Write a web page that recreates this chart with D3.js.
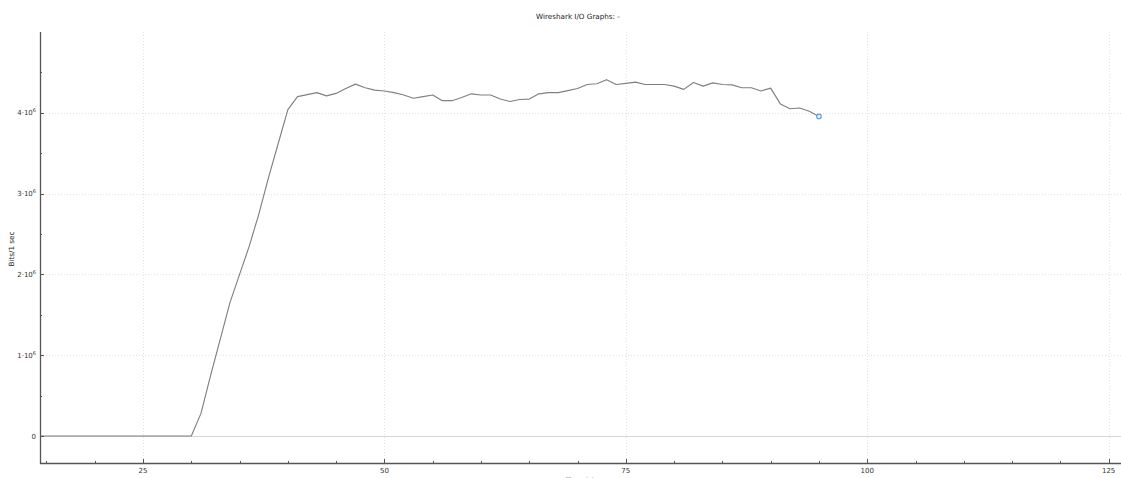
<!DOCTYPE html>
<html>
<head>
<meta charset="utf-8">
<script src="https://cdn.jsdelivr.net/npm/d3@7"></script>
<style>
  html, body { margin: 0; padding: 0; background: #fff; }
  svg { display: block; }
  text { font-family: "DejaVu Sans", sans-serif; }
</style>
</head>
<body>
<svg id="chart" width="1121" height="478"></svg>
<script>
// Throughput samples: one value per second (bits per 1 s interval)
const seconds = [14,15,16,17,18,19,20,21,22,23,24,25,26,27,28,29,30,
  31,32,33,34,35,36,37,38,39,40,41,42,43,44,45,46,47,48,49,50,
  51,52,53,54,55,56,57,58,59,60,61,62,63,64,65,66,67,68,69,70,
  71,72,73,74,75,76,77,78,79,80,81,82,83,84,85,86,87,88,89,90,
  91,92,93,94,95];
const bitsPerSec = [0,0,0,0,0,0,0,0,0,0,0,0,0,0,0,0,0,
  0.28e6,0.75e6,1.2e6,1.65e6,2.0e6,2.35e6,2.75e6,3.2e6,3.62e6,4.04e6,
  4.20e6,4.225e6,4.25e6,4.21e6,4.24e6,4.30e6,4.355e6,4.31e6,4.28e6,4.27e6,
  4.25e6,4.22e6,4.18e6,4.20e6,4.22e6,4.15e6,4.15e6,4.19e6,4.235e6,4.22e6,
  4.22e6,4.17e6,4.14e6,4.165e6,4.17e6,4.235e6,4.25e6,4.25e6,4.275e6,4.30e6,
  4.35e6,4.36e6,4.41e6,4.35e6,4.365e6,4.38e6,4.35e6,4.35e6,4.35e6,4.33e6,
  4.29e6,4.375e6,4.33e6,4.37e6,4.35e6,4.345e6,4.31e6,4.31e6,4.27e6,4.305e6,
  4.11e6,4.05e6,4.06e6,4.02e6,3.955e6];

const xMajorTicks = [25, 50, 75, 100, 125];
const xMinorTicks = [15,20,30,35,40,45,55,60,65,70,80,85,90,95,105,110,115,120];
const yMajorTicks = [0, 1e6, 2e6, 3e6, 4e6];
const yMinorTicks = [0.5e6, 1.5e6, 2.5e6, 3.5e6, 4.5e6];

const titleText = "Wireshark I/O Graphs: -";
const yLabelText = "Bits/1 sec";
const xLabelText = "Time (s)";

const svg = d3.select("#chart");
const plotLeft = 40, plotRight = 1121, plotTop = 32, plotBottom = 463;

const x = d3.scaleLinear().domain([14.33, 126.28]).range([plotLeft, plotRight]);
const y = d3.scaleLinear().domain([-0.334e6, 5.0e6]).range([plotBottom, plotTop]);

// plot area clip
svg.append("defs").append("clipPath").attr("id", "plotClip")
  .append("rect").attr("x", plotLeft).attr("y", plotTop)
  .attr("width", plotRight - plotLeft).attr("height", plotBottom - plotTop);

// grid
const grid = svg.append("g").attr("stroke", "#e2e2e2").attr("stroke-width", 1)
  .attr("stroke-dasharray", "1,2");
grid.selectAll("line.vx").data(xMajorTicks).join("line")
  .attr("x1", d => Math.round(x(d)) + 0.5).attr("x2", d => Math.round(x(d)) + 0.5)
  .attr("y1", plotTop).attr("y2", plotBottom);
grid.selectAll("line.hy").data(yMajorTicks.filter(d => d !== 0)).join("line")
  .attr("x1", plotLeft).attr("x2", plotRight)
  .attr("y1", d => Math.round(y(d)) + 0.5).attr("y2", d => Math.round(y(d)) + 0.5);

// zero line
svg.append("line")
  .attr("x1", plotLeft).attr("x2", plotRight)
  .attr("y1", Math.round(y(0)) + 0.5).attr("y2", Math.round(y(0)) + 0.5)
  .attr("stroke", "#d6d6d6").attr("stroke-width", 1.2);

// data line
const line = d3.line().x((d, i) => x(seconds[i])).y(d => y(d));
svg.append("path")
  .attr("clip-path", "url(#plotClip)")
  .attr("d", line(bitsPerSec))
  .attr("fill", "none")
  .attr("stroke", "#808080")
  .attr("stroke-width", 1.15)
  .attr("stroke-linejoin", "round");

// last-sample marker
const lastI = bitsPerSec.length - 1;
svg.append("circle")
  .attr("cx", x(seconds[lastI])).attr("cy", y(bitsPerSec[lastI]))
  .attr("r", 2.3)
  .attr("fill", "#e8f1fc")
  .attr("stroke", "#5b9be6")
  .attr("stroke-width", 1.1);

// axes
const axisColor = "#555";
svg.append("line").attr("x1", plotLeft + 0.5).attr("x2", plotLeft + 0.5)
  .attr("y1", plotTop).attr("y2", plotBottom + 1)
  .attr("stroke", axisColor).attr("stroke-width", 1.3);
svg.append("line").attr("x1", plotLeft).attr("x2", plotRight)
  .attr("y1", plotBottom + 0.5).attr("y2", plotBottom + 0.5)
  .attr("stroke", axisColor).attr("stroke-width", 1.3);

// y ticks (inward)
svg.selectAll("line.ytM").data(yMajorTicks).join("line")
  .attr("x1", plotLeft).attr("x2", plotLeft + 4)
  .attr("y1", d => Math.round(y(d)) + 0.5).attr("y2", d => Math.round(y(d)) + 0.5)
  .attr("stroke", axisColor);
svg.selectAll("line.ytm").data(yMinorTicks).join("line")
  .attr("x1", plotLeft).attr("x2", plotLeft + 2)
  .attr("y1", d => Math.round(y(d)) + 0.5).attr("y2", d => Math.round(y(d)) + 0.5)
  .attr("stroke", axisColor);

// x ticks (inward)
svg.selectAll("line.xtM").data(xMajorTicks).join("line")
  .attr("x1", d => Math.round(x(d)) + 0.5).attr("x2", d => Math.round(x(d)) + 0.5)
  .attr("y1", plotBottom).attr("y2", plotBottom - 4)
  .attr("stroke", axisColor);
svg.selectAll("line.xtm").data(xMinorTicks).join("line")
  .attr("x1", d => Math.round(x(d)) + 0.5).attr("x2", d => Math.round(x(d)) + 0.5)
  .attr("y1", plotBottom).attr("y2", plotBottom - 2)
  .attr("stroke", axisColor);

// y tick labels, e.g. 4·10^6
const yl = svg.selectAll("text.yl").data(yMajorTicks).join("text")
  .attr("x", plotLeft - 4).attr("y", d => y(d) + 2.5)
  .attr("text-anchor", "end")
  .attr("font-size", 7)
  .attr("fill", "#333");
yl.each(function(d) {
  const t = d3.select(this);
  if (d === 0) { t.text("0"); return; }
  t.append("tspan").text((d / 1e6) + "·10");
  t.append("tspan").attr("font-size", 5).attr("dy", -3).text("6");
});

// x tick labels
svg.selectAll("text.xl").data(xMajorTicks).join("text")
  .attr("x", d => x(d)).attr("y", plotBottom + 10)
  .attr("text-anchor", "middle")
  .attr("font-size", 7)
  .attr("fill", "#333")
  .text(d => d);

// title
svg.append("text").attr("x", 578).attr("y", 19)
  .attr("text-anchor", "middle").attr("font-size", 7.2).attr("fill", "#222")
  .text(titleText);

// y axis label
svg.append("text")
  .attr("transform", "translate(14,249) rotate(-90)")
  .attr("text-anchor", "middle").attr("font-size", 7.2).attr("fill", "#222")
  .text(yLabelText);

// x axis label (sits at the lower edge)
svg.append("text").attr("x", 580).attr("y", 483)
  .attr("text-anchor", "middle").attr("font-size", 7.2).attr("fill", "#222")
  .text(xLabelText);
</script>
</body>
</html>
